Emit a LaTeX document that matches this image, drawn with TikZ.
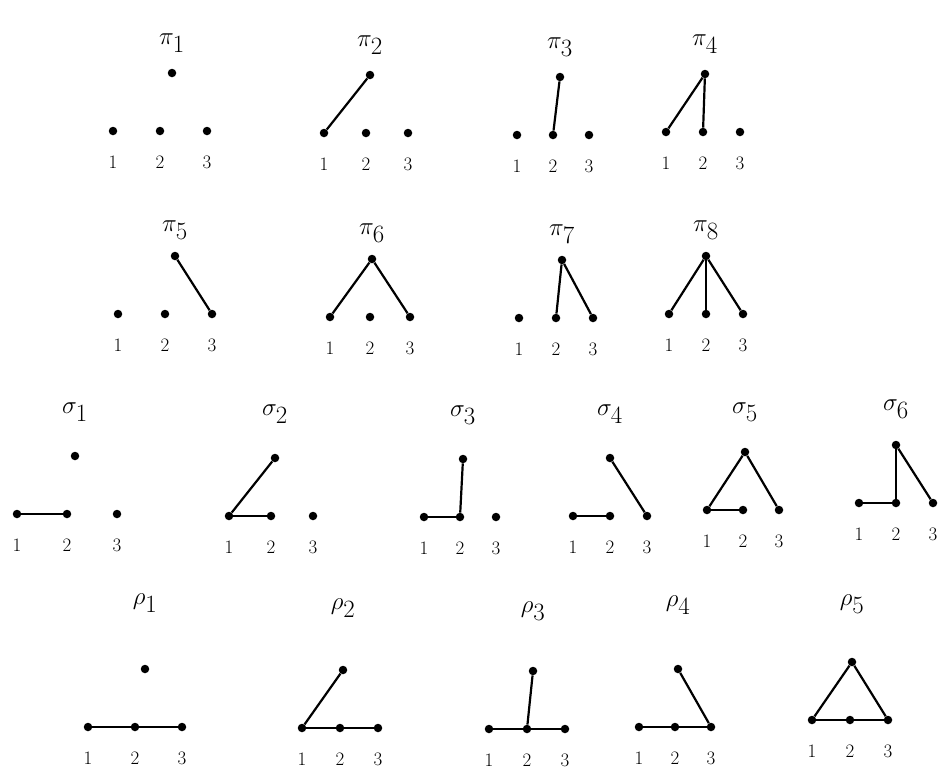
\documentclass[tikz,border=0pt]{standalone}
\usepackage{amsmath,amssymb}
\usepackage{tikz}
\usetikzlibrary{calc}

% #1 name, #2 label, #3,#4 middle bottom vertex, #5 spacing, #6 top shift, #7 label gap
\newcommand{\graphnodes}[7]{%
  \node[dot] (#1b) at (#3,#4) {};
  \node[dot] (#1a) at ($(#1b)+(-#5,0)$) {};
  \node[dot] (#1c) at ($(#1b)+(#5,0)$) {};
  \node[dot] (#1t) at ($(#1b)+(#6,-58)$) {};
  \node[lbl] (#1l) at ($(#1t)+(0,-#7)$) {$#2$};
  \node[num] (#1n1) at ($(#1a)+(0,31)$) {1};
  \node[num] (#1n2) at ($(#1b)+(0,31)$) {2};
  \node[num] (#1n3) at ($(#1c)+(0,31)$) {3};
}

\begin{document}
\begin{tikzpicture}[x=1pt,y=-1pt,
  dot/.style={circle,fill=black,inner sep=0pt,minimum size=8.5pt},
  edge/.style={line width=2.2pt},
  lbl/.style={font=\fontsize{34}{36}\selectfont},
  num/.style={font=\fontsize{19}{21}\selectfont}]
\useasboundingbox[fill=white] (0,0) rectangle (943,774);

% pi graphs, first row
\graphnodes{pa}{\pi_1}{160}{131}{47}{12}{30}
\graphnodes{pb}{\pi_2}{366}{133}{42}{4}{30}
\draw[edge] (pbt) -- (pba);
\graphnodes{pc}{\pi_3}{553}{135}{36}{7}{30}
\draw[edge] (pct) -- (pcb);
\graphnodes{pd}{\pi_4}{703}{132}{37}{2}{30}
\draw[edge] (pdt) -- (pda);
\draw[edge] (pdt) -- (pdb);

% pi graphs, second row
\graphnodes{pe}{\pi_5}{165}{314}{47}{10}{26}
\draw[edge] (pet) -- (pec);
\graphnodes{pf}{\pi_6}{370}{317}{40}{2}{26}
\draw[edge] (pft) -- (pfa);
\draw[edge] (pft) -- (pfc);
\graphnodes{pg}{\pi_7}{556}{318}{37}{6}{26}
\draw[edge] (pgt) -- (pgb);
\draw[edge] (pgt) -- (pgc);
\graphnodes{ph}{\pi_8}{706}{314}{37}{0}{26}
\draw[edge] (pht) -- (pha);
\draw[edge] (pht) -- (phb);
\draw[edge] (pht) -- (phc);

% sigma graphs
\graphnodes{sa}{\sigma_1}{67}{514}{50}{8}{44}
\draw[edge] (saa) -- (sab);
\graphnodes{sb}{\sigma_2}{271}{516}{42}{4}{44}
\draw[edge] (sbt) -- (sba);
\draw[edge] (sba) -- (sbb);
\graphnodes{sc}{\sigma_3}{460}{517}{36}{3}{44}
\draw[edge] (sca) -- (scb);
\draw[edge] (sct) -- (scb);
\graphnodes{sd}{\sigma_4}{610}{516}{37}{0}{44}
\draw[edge] (sda) -- (sdb);
\draw[edge] (sdt) -- (sdc);
\graphnodes{se}{\sigma_5}{743}{510}{36}{2}{40}
\draw[edge] (set) -- (sea);
\draw[edge] (set) -- (sec);
\draw[edge] (sea) -- (seb);
\graphnodes{sf}{\sigma_6}{896}{503}{37}{0}{36}
\draw[edge] (sfa) -- (sfb);
\draw[edge] (sft) -- (sfb);
\draw[edge] (sft) -- (sfc);

% rho graphs
\graphnodes{ra}{\rho_1}{135}{727}{47}{10}{66}
\draw[edge] (raa) -- (rab) -- (rac);
\graphnodes{rb}{\rho_2}{340}{728}{38}{3}{62}
\draw[edge] (rbt) -- (rba);
\draw[edge] (rba) -- (rbb) -- (rbc);
\graphnodes{rc}{\rho_3}{527}{729}{38}{6}{60}
\draw[edge] (rca) -- (rcb) -- (rcc);
\draw[edge] (rct) -- (rcb);
\graphnodes{rd}{\rho_4}{675}{727}{36}{3}{64}
\draw[edge] (rda) -- (rdb) -- (rdc);
\draw[edge] (rdt) -- (rdc);
\graphnodes{re}{\rho_5}{850}{720}{38}{2}{58}
\draw[edge] (ret) -- (rea);
\draw[edge] (ret) -- (rec);
\draw[edge] (rea) -- (reb) -- (rec);
\end{tikzpicture}
\end{document}
